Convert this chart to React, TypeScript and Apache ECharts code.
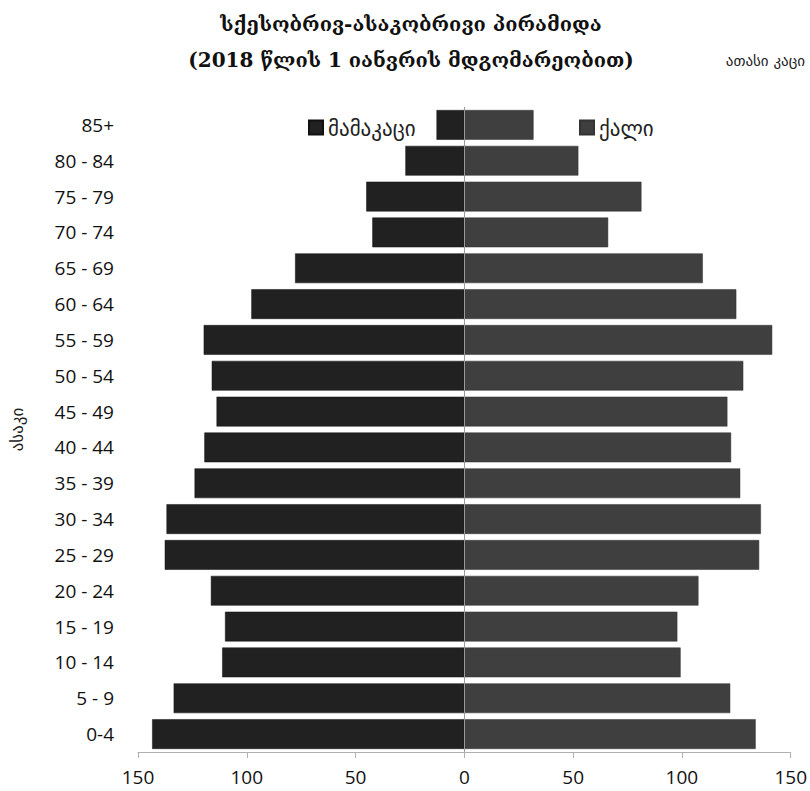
import React, { useEffect, useRef } from "react";
import * as echarts from "echarts";

const categories = ["0-4", "5 - 9", "10 - 14", "15 - 19", "20 - 24", "25 - 29", "30 - 34", "35 - 39", "40 - 44", "45 - 49", "50 - 54", "55 - 59", "60 - 64", "65 - 69", "70 - 74", "75 - 79", "80 - 84", "85+"];
const male = [143.5, 133.6, 111.3, 110, 116.5, 137.7, 136.9, 124, 119.5, 113.9, 116.1, 119.8, 97.9, 77.8, 42.3, 45.1, 27.1, 12.8];
const female = [133.9, 122.2, 99.4, 97.9, 107.6, 135.5, 136.3, 126.8, 122.6, 120.9, 128.2, 141.5, 125, 109.6, 66.1, 81.4, 52.4, 31.8];
const maleName = "მამაკაცი";
const femaleName = "ქალი";
const titleLine1 = "სქესობრივ-ასაკობრივი პირამიდა";
const titleLine2 = "(2018 წლის 1 იანვრის მდგომარეობით)";
const unitText = "ათასი კაცი";
const yName = "ასაკი";

export default function App() {
  const ref = useRef<HTMLDivElement>(null);
  useEffect(() => {
    if (!ref.current) return;
    const chart = echarts.init(ref.current, null, { renderer: "svg" });
    const labelFont = "'Open Sans', 'DejaVu Sans', sans-serif";
    chart.setOption({
      animation: false,
      backgroundColor: "#ffffff",
      title: [
        {
          text: titleLine1 + "\n" + titleLine2,
          left: 406,
          top: 1,
          textAlign: "center",
          textStyle: { fontFamily: "'DejaVu Serif', serif", fontWeight: "bold", fontSize: 20, color: "#111", lineHeight: 36 },
        },
        {
          text: unitText,
          right: 0,
          top: 48,
          textStyle: { fontFamily: "'DejaVu Sans', sans-serif", fontWeight: "normal", fontSize: 15, color: "#222" },
        },
      ],
      legend: [
        {
          data: [maleName],
          left: 303,
          top: 112,
          itemWidth: 14,
          itemHeight: 14,
          itemGap: 4,
          icon: "rect",
          textStyle: { fontFamily: labelFont, fontSize: 21, color: "#222" },
        },
        {
          data: [femaleName],
          left: 574,
          top: 112,
          itemWidth: 14,
          itemHeight: 14,
          itemGap: 4,
          icon: "rect",
          textStyle: { fontFamily: labelFont, fontSize: 21, color: "#222" },
        },
      ],
      grid: { left: 137, right: 17, top: 107, bottom: 39, containLabel: false },
      xAxis: {
        type: "value",
        min: -150,
        max: 150,
        interval: 50,
        splitLine: { show: false },
        axisLine: { show: true, lineStyle: { color: "#b0b0b0", width: 1 } },
        axisTick: { show: true, length: 6, lineStyle: { color: "#b0b0b0" } },
        axisLabel: {
          formatter: (v: number) => String(Math.abs(v)),
          fontFamily: labelFont,
          fontSize: 19,
          color: "#111",
          margin: 15,
        },
      },
      yAxis: {
        type: "category",
        data: categories,
        name: yName,
        nameLocation: "middle",
        nameGap: 113,
        nameRotate: 90,
        nameTextStyle: { fontFamily: "'DejaVu Sans', sans-serif", fontSize: 17, color: "#222" },
        axisLine: { show: false },
        axisTick: { show: false },
        axisLabel: { fontFamily: labelFont, fontSize: 19, color: "#111", margin: 24 },
      },
      series: [
        {
          name: maleName,
          type: "bar",
          stack: "total",
          barCategoryGap: "17%",
          data: male.map((v) => -v),
          itemStyle: { color: "#212121", borderColor: "#111", borderWidth: 0.5 },
          markLine: {
            silent: true,
            symbol: "none",
            label: { show: false },
            lineStyle: { color: "#9a9a9a", type: "solid", width: 1 },
            data: [{ xAxis: 0 }],
          },
        },
        {
          name: femaleName,
          type: "bar",
          stack: "total",
          barCategoryGap: "17%",
          data: female,
          itemStyle: { color: "#3f3f3f", borderColor: "#333", borderWidth: 0.5 },
        },
      ],
    });
    return () => chart.dispose();
  }, []);
  return <div ref={ref} style={{ width: 810, height: 791, position: "absolute", left: 0, top: 0 }} />;
}
